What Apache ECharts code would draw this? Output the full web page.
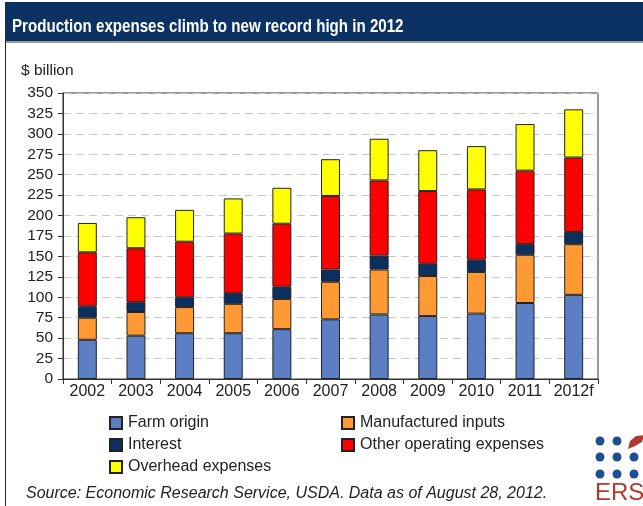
<!DOCTYPE html>
<html>
<head>
<meta charset="utf-8">
<script src="https://cdn.jsdelivr.net/npm/echarts@6/dist/echarts.min.js"></script>
<style>
  html, body { margin: 0; padding: 0; background: #fff; }
  #chart { width: 643px; height: 506px; }
</style>
</head>
<body>
<div id="chart"></div>
<script>
// Farm production expenses by category, $ billion
const years = ['2002', '2003', '2004', '2005', '2006', '2007', '2008', '2009', '2010', '2011', '2012f'];
const farmOrigin     = [48, 53, 56, 56, 61, 73, 79, 77, 80, 93, 103];
const manufactured   = [27, 29, 32, 36, 37, 46, 55, 49, 51, 59, 62];
const interest       = [14, 12, 12, 13, 15, 15, 17, 15, 15, 13, 15];
const otherOperating = [66, 66, 68, 73, 77, 90, 92, 89, 86, 90, 91];
const overhead       = [36, 38, 39, 43, 44, 45, 51, 50, 53, 57, 59];

const FONT = 'Liberation Sans, Arial, sans-serif';

const chart = echarts.init(document.getElementById('chart'), null, { renderer: 'canvas' });

function bar(name, data, color) {
  return {
    name: name,
    type: 'bar',
    stack: 'total',
    data: data,
    barWidth: '39%',
    itemStyle: { color: color, borderColor: '#222', borderWidth: 1 }
  };
}

const legendCommon = {
  orient: 'vertical',
  itemWidth: 12,
  itemHeight: 12,
  itemGap: 6,
  icon: 'rect',
  textStyle: { fontFamily: FONT, fontSize: 16, color: '#222', padding: [0, 0, 0, 1] },
  selectedMode: false
};

chart.setOption({
  animation: false,
  backgroundColor: '#fff',
  grid: {
    left: 63, right: 45, top: 93, bottom: 127,
    show: true, borderColor: '#333', borderWidth: 1
  },
  xAxis: {
    type: 'category',
    data: years,
    axisLine: { lineStyle: { color: '#333', width: 1 } },
    axisTick: { show: true, length: 5, lineStyle: { color: '#333' } },
    axisLabel: { interval: 0, fontFamily: FONT, fontSize: 16, color: '#222', margin: 5 }
  },
  yAxis: {
    type: 'value',
    min: 0, max: 350, interval: 25,
    axisLine: { show: true, lineStyle: { color: '#333', width: 1 } },
    axisTick: { show: true, length: 5, lineStyle: { color: '#333' } },
    axisLabel: { fontFamily: FONT, fontSize: 15.5, color: '#222', margin: 10 },
    splitLine: { show: true, lineStyle: { color: '#c8c8c8', type: [8, 5] } }
  },
  legend: [
    Object.assign({ left: 104, top: 410, data: ['Farm origin', 'Interest', 'Overhead expenses'] }, legendCommon),
    Object.assign({ left: 336, top: 410, data: ['Manufactured inputs', 'Other operating expenses'] }, legendCommon)
  ],
  series: [
    bar('Farm origin', farmOrigin, '#5b7ec4'),
    bar('Manufactured inputs', manufactured, '#ff9933'),
    bar('Interest', interest, '#0b2f5e'),
    bar('Other operating expenses', otherOperating, '#ff0000'),
    bar('Overhead expenses', overhead, '#ffff00')
  ],
  graphic: [
    // title band
    { type: 'rect', left: 5, top: 2, shape: { width: 640, height: 39 }, style: { fill: '#0b3263' }, z: 10 },
    { type: 'rect', left: 5, top: 41, shape: { width: 640, height: 2 }, style: { fill: '#9a9a9a' }, z: 10 },
    { type: 'rect', left: 5, top: 41, shape: { width: 1, height: 470 }, style: { fill: '#222' }, z: 10 },
    {
      type: 'text', x: 12, y: 18, scaleX: 0.84, z: 11,
      style: { x: 0, y: 0, text: 'Production expenses climb to new record high in 2012', fill: '#fff',
               font: 'bold 18px ' + FONT }
    },
    {
      type: 'text', left: 21, top: 63, z: 11,
      style: { text: '$ billion', fill: '#222', font: '15.5px ' + FONT }
    },
    {
      type: 'text', left: 26, top: 486, z: 11,
      style: { text: 'Source: Economic Research Service, USDA. Data as of August 28, 2012.', fill: '#222',
               font: 'italic 16px ' + FONT }
    },
    // ERS mark
    {
      type: 'group', left: 595, top: 435, z: 11,
      children: [
        { type: 'circle', shape: { cx: 6, cy: 6, r: 4.5 }, style: { fill: '#1d4f91' } },
        { type: 'circle', shape: { cx: 23, cy: 6, r: 4.5 }, style: { fill: '#1d4f91' } },
        { type: 'circle', shape: { cx: 6, cy: 22, r: 4.5 }, style: { fill: '#1d4f91' } },
        { type: 'circle', shape: { cx: 23, cy: 22, r: 4.5 }, style: { fill: '#1d4f91' } },
        { type: 'circle', shape: { cx: 40, cy: 22, r: 4.5 }, style: { fill: '#1d4f91' } },
        { type: 'circle', shape: { cx: 6, cy: 39, r: 4.5 }, style: { fill: '#1d4f91' } },
        { type: 'circle', shape: { cx: 23, cy: 39, r: 4.5 }, style: { fill: '#1d4f91' } },
        { type: 'circle', shape: { cx: 40, cy: 39, r: 4.5 }, style: { fill: '#1d4f91' } },
        { type: 'polygon', shape: { points: [[34, 14], [36, 6], [42, 1], [50, 0], [48, 7], [41, 11]] }, style: { fill: '#b03a2e' } },
        { type: 'text', style: { x: 1, y: 46, text: 'ERS', fill: '#b03a2e', font: '24px ' + FONT } }
      ]
    }
  ]
});
</script>
</body>
</html>
